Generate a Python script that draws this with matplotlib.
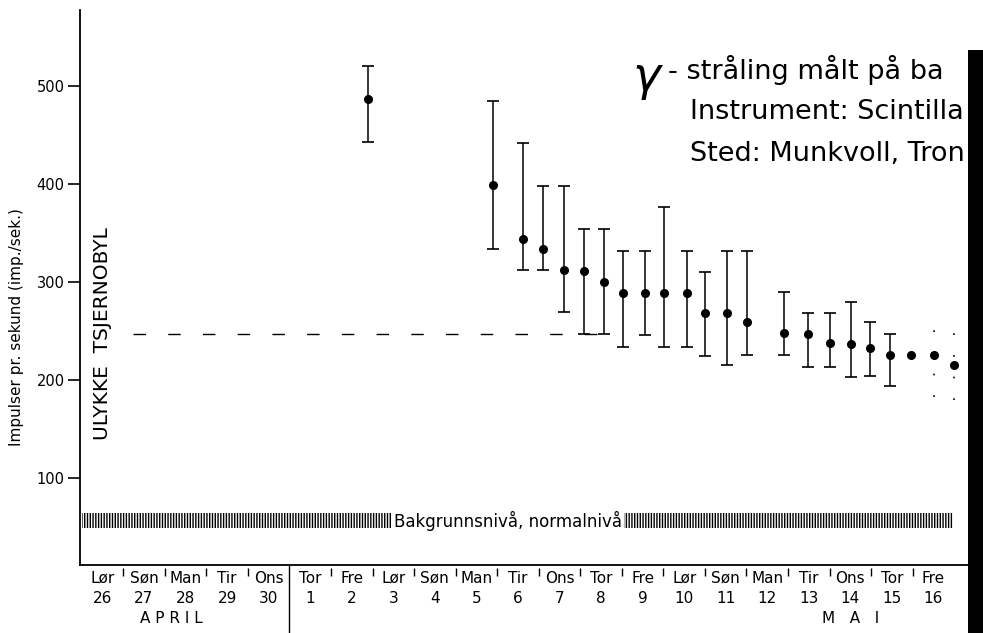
import numpy as np
import matplotlib
matplotlib.use('Agg')
import matplotlib.pyplot as plt
from matplotlib.patches import Rectangle

plt.rcParams['font.family'] = ['DejaVu Sans']
plt.rcParams['hatch.linewidth'] = 1.0

# measurement times (day number, 30 April = 0, 1 May = 1, ...)
meas_day = [2.40, 5.41, 6.11, 6.61, 7.10, 7.58, 8.08, 8.54, 9.05, 9.51, 10.08, 10.49,
            11.02, 11.51, 12.40, 12.98, 13.51, 14.01, 14.47, 14.95, 15.46, 16.01, 16.49]
rate = [487, 399, 344, 334, 312, 311, 300, 289, 289, 289, 289, 268,
        268, 259, 248, 247, 238, 237, 233, 226, 226, 226, 215]
rate_hi = [520, 485, 442, 398, 398, 354, 354, 332, 332, 377, 332, 310,
           332, 332, 290, 268, 268, 280, 259, 247, np.nan, np.nan, np.nan]
rate_lo = [443, 334, 312, 312, 269, 247, 247, 234, 246, 234, 234, 225,
           215, 226, 226, 213, 213, 203, 204, 194, np.nan, np.nan, np.nan]

# faint (half erased) error bars at the end
faint_day = [16.01, 16.49]
faint_hi = [260, 248]
faint_lo = [183, 180]

# level before the accident
pre_level = 247
pre_span = (-3.27, 8.1)
# background band
bg_lo, bg_hi = 49, 64
bg_span = (-4.49, 16.47)

day_x = list(range(-4, 17))
weekday = ['Lør', 'Søn', 'Man', 'Tir', 'Ons', 'Tor', 'Fre', 'Lør', 'Søn', 'Man', 'Tir',
           'Ons', 'Tor', 'Fre', 'Lør', 'Søn', 'Man', 'Tir', 'Ons', 'Tor', 'Fre']
day_num = [26, 27, 28, 29, 30] + list(range(1, 17))
y_ticks = [100, 200, 300, 400, 500]

W, H = 983, 633
fig = plt.figure(figsize=(W / 100, H / 100), dpi=100)
ax = fig.add_axes([80 / W, 68 / H, 895 / W, 555 / H])
ax.set_xlim(-4.54, 17.0)
ax.set_ylim(11.2, 577.6)

for s in ['top', 'right']:
    ax.spines[s].set_visible(False)
ax.spines['left'].set_linewidth(1.3)
ax.spines['bottom'].set_linewidth(1.3)
ax.set_xticks([])
ax.set_yticks(y_ticks)
ax.tick_params(axis='y', direction='out', length=9, width=1.2, pad=2, labelsize=10.5)

# data
hi = np.array(rate_hi) - np.array(rate)
lo = np.array(rate) - np.array(rate_lo)
ax.errorbar(meas_day, rate, yerr=[lo, hi], fmt='o', color='black', ms=5.5,
            elinewidth=1.1, capsize=4, capthick=1.2)
ax.vlines(faint_day, faint_lo, faint_hi, color='black', lw=1.2, linestyles=(0, (1, 12)))

ax.hlines(pre_level, *pre_span, color='black', lw=1.0, linestyles=(0, (9, 16)))

ax.fill_between(bg_span, bg_lo, bg_hi, facecolor='none', hatch='||||||',
                edgecolor='black', linewidth=0)
ax.text(5.77, (bg_lo + bg_hi) / 2, 'Bakgrunnsnivå, normalnivå', ha='center', va='center',
        fontsize=12, bbox=dict(facecolor='white', edgecolor='none', pad=1.5))

ax.text(-4.0, 0.416, 'ULYKKE  TSJERNOBYL', transform=ax.get_xaxis_transform(),
        rotation=90, ha='center', va='center', fontsize=14.5)

fig.text(17 / W, 1 - 327 / H, 'Impulser pr. sekund (imp./sek.)', rotation=90,
         ha='center', va='center', fontsize=11)

# date axis below
tr = ax.get_xaxis_transform()
for x, wd, dn in zip(day_x, weekday, day_num):
    ax.text(x, -0.024, wd, transform=tr, ha='center', va='center', fontsize=11)
    ax.text(x, -0.060, str(dn), transform=tr, ha='center', va='center', fontsize=11)
bounds = [x + 0.5 for x in day_x[:-1] if x != 0]
ax.vlines(bounds, -0.006, -0.02, transform=tr, color='black', lw=1.0, clip_on=False)
ax.vlines(0.5, 0, -0.125, transform=tr, color='black', lw=1.0, clip_on=False)
ax.text(-2.33, -0.097, 'A P R I L', transform=tr, ha='center', va='center', fontsize=11)
ax.text(14.0, -0.097, 'M   A   I', transform=tr, ha='center', va='center', fontsize=11)

# title block (cut by the dark scan edge)
fig.text(632 / W, 1 - 80 / H, r'$\gamma$', fontsize=34, ha='left', va='center')
fig.text(668 / W, 1 - 70 / H, '- stråling målt på ba', fontsize=19.5, ha='left', va='center')
fig.text(690 / W, 1 - 112 / H, 'Instrument: Scintilla', fontsize=19.5, ha='left', va='center')
fig.text(690 / W, 1 - 154 / H, 'Sted: Munkvoll, Tron', fontsize=19.5, ha='left', va='center')

# dark scan edge on the right
fig.patches.append(Rectangle((968 / W, 0), 1, 1 - 50 / H, transform=fig.transFigure,
                             facecolor='black', edgecolor='none', zorder=10))

fig.savefig('out.png', dpi=100)
